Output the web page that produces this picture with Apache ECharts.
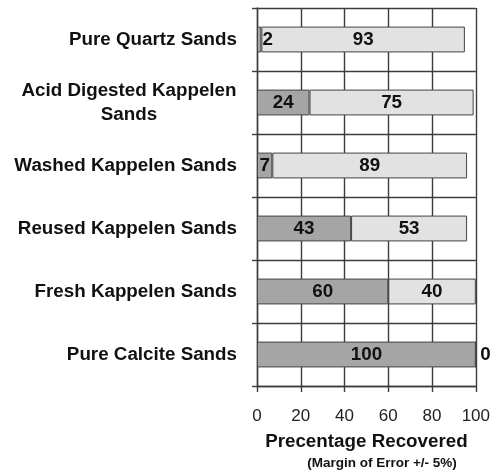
<!DOCTYPE html>
<html>
<head>
<meta charset="utf-8">
<script src="https://cdn.jsdelivr.net/npm/echarts@6/dist/echarts.min.js"></script>
<style>html,body{margin:0;padding:0;background:#fff;}#c{width:493px;height:473px;}</style>
</head>
<body>
<div id="c"></div>
<script>
var categories = ['Pure Quartz Sands', 'Acid Digested Kappelen\nSands', 'Washed Kappelen Sands', 'Reused Kappelen Sands', 'Fresh Kappelen Sands', 'Pure Calcite Sands'];
var darkValues = [2, 24, 7, 43, 60, 100];
var lightValues = [93, 75, 89, 53, 40, 0];
var xTicks = [0, 20, 40, 60, 80, 100];
var axisTitle = 'Precentage Recovered';
var subTitle = '(Margin of Error +/- 5%)';

var FONT = "'Liberation Sans', Arial, sans-serif";
var lineCol = '#3c3c3c';
var LW = 1.4;
var labelStyle = { show: true, position: 'inside', formatter: '{c}', fontFamily: FONT, fontSize: 18.8, fontWeight: 'bold', color: '#111' };

function mkData(vals, smallPos, smallDist) {
  return vals.map(function (v) {
    if (v < 5) {
      return { value: v, label: { position: smallPos, distance: smallDist } };
    }
    return v;
  });
}

var chart = echarts.init(document.getElementById('c'));
chart.setOption({
  backgroundColor: '#fff',
  animation: false,
  grid: { left: 257, right: 17, top: 8, bottom: 87 },
  xAxis: {
    type: 'value', min: xTicks[0], max: xTicks[xTicks.length - 1], interval: 20,
    axisLine: { show: true, lineStyle: { color: lineCol, width: LW } },
    axisTick: { show: true, length: 6, lineStyle: { color: lineCol, width: LW } },
    splitLine: { show: true, lineStyle: { color: lineCol, width: LW } },
    axisLabel: { margin: 22, fontFamily: FONT, fontSize: 17, color: '#222' },
    name: axisTitle, nameLocation: 'middle', nameGap: 46,
    nameTextStyle: { fontFamily: FONT, fontSize: 18.8, fontWeight: 'bold', color: '#111' }
  },
  yAxis: {
    type: 'category', inverse: true, data: categories,
    axisLine: { show: true, lineStyle: { color: lineCol, width: LW } },
    axisTick: { show: true, length: 5, lineStyle: { color: lineCol, width: LW } },
    splitLine: { show: true, lineStyle: { color: lineCol, width: LW } },
    axisLabel: {
      margin: 20, fontFamily: FONT, fontSize: 18.8, fontWeight: 'bold', color: '#111',
      formatter: function (v) {
        if (v.indexOf('\n') >= 0) {
          return v.split('\n').map(function (s) { return '{c|' + s + '}'; }).join('\n');
        }
        return v;
      },
      rich: { c: { width: 216, align: 'center', fontFamily: FONT, fontSize: 18.8, fontWeight: 'bold', color: '#111', lineHeight: 24 } }
    }
  },
  graphic: [{
    type: 'text', x: 382, y: 463,
    style: { text: subTitle, textAlign: 'center', textVerticalAlign: 'middle', font: 'bold 13.5px ' + FONT, fill: '#111' }
  }],
  series: [
    {
      type: 'bar', stack: 's', barWidth: '41%', data: mkData(darkValues, 'right', 1),
      itemStyle: { color: '#a5a5a5', borderColor: '#444', borderWidth: 1 },
      label: labelStyle, z: 3
    },
    {
      type: 'bar', stack: 's', barWidth: '41%', data: mkData(lightValues, 'right', 4),
      itemStyle: { color: '#e2e2e2', borderColor: '#444', borderWidth: 1 },
      label: labelStyle, z: 2
    }
  ]
});
</script>
</body>
</html>
